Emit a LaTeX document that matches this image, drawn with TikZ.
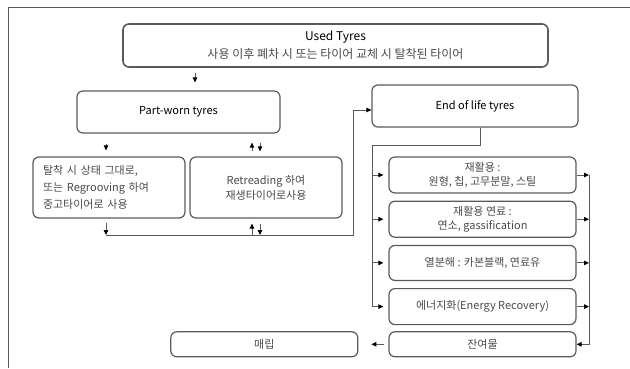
\documentclass[tikz,border=0pt]{standalone}
\usepackage{fontspec}
\setmainfont{Noto Sans CJK KR}
\usetikzlibrary{calc, positioning, arrows.meta}
\definecolor{linegray}{HTML}{5A5A5A}
\definecolor{textgray}{HTML}{4A4A4A}
\tikzset{
  box/.style={draw=linegray, line width=1.2pt, rounded corners=6pt, align=center,
    inner sep=2pt, text=textgray, font=\fontsize{11}{14}\selectfont},
  conn/.style={draw=linegray, line width=0.9pt},
  >={Triangle[length=5pt, width=4.5pt, color=black]},
}

\begin{document}
\begin{tikzpicture}[x=1pt, y=-1pt, node distance=7pt and 30pt]
    \useasboundingbox (0,0) rectangle (630,368);

    % Frame
    \draw [linegray, line width=1pt] (630,7) -- (8,7) -- (8,368);

    % Nodes
    \node (used)    [box, line width=1.6pt, minimum width=425pt, minimum height=43pt, text=black, font=\fontsize{12}{18}\selectfont] at (335.5,45.5) {Used Tyres\\{\color{textgray}사용 이후 폐차 시 또는 타이어 교체 시 탈착된 타이어}};
    \node (worn)    [box, minimum width=203pt, minimum height=42pt, text=black] at (178.5,112) {Part-worn tyres};
    \node (eol)     [box, minimum width=206pt, minimum height=42pt, text=black] at (475,106) {End of life tyres};
    \node (reuse)   [box, align=left, text width=132pt, inner xsep=10pt, minimum height=61pt, font=\fontsize{11}{17}\selectfont] at (109,187.5) {탈착 시 상태 그대로,\\또는 Regrooving 하여\\중고타이어로 사용};
    \node (retread) [box, minimum width=152pt, minimum height=61pt, font=\fontsize{11}{15}\selectfont] at (266,187.5) {Retreading 하여\\재생타이어로사용};
    \node (recyc)   [box, minimum width=187pt, minimum height=36pt] at (482.5,175) {재활용 :\\원형, 칩, 고무분말, 스틸};
    \node (fuel)    [box, below=of recyc, minimum width=187pt, minimum height=36pt] {재활용 연료 :\\연소, gassification};
    \node (pyro)    [box, below=of fuel, minimum width=187pt, minimum height=35pt] {열분해 : 카본블랙, 연료유};
    \node (energy)  [box, below=of pyro, minimum width=187pt, minimum height=36pt] {에너지화(Energy Recovery)};
    \node (resid)   [box, below=6pt of energy, minimum width=187pt, minimum height=25pt] {잔여물};
    \node (fill)    [box, left=of resid, minimum width=187pt, minimum height=25pt] {매립};

    % Helper points
    \coordinate (ua) at (195,0);
    \coordinate (la) at (106,0);
    \coordinate (up) at (252,0);
    \coordinate (dn) at (260,0);
    \coordinate (bl) at (106,235);
    \coordinate (br) at (353,235);
    \coordinate (ls) at (372,145);
    \coordinate (rs) at (589,0);

    % Connectors
    \begin{scope}[conn]

        \draw [->, shorten <=5pt, shorten >=8pt] (used.south -| ua) -- (worn.north -| ua);
        \draw [->, shorten <=10pt, shorten >=6pt] (worn.south -| la) -- (reuse.north -| la);
        \draw [->, shorten <=5pt, shorten >=9pt] (retread.north -| up) -- (worn.south -| up);
        \draw [->, shorten <=9pt, shorten >=5pt] (worn.south -| dn) -- (retread.north -| dn);

        \draw [->, shorten <=4pt] (reuse.south -| bl) -- (bl);
        \draw [->, shorten >=5pt] (bl -| up) -- (retread.south -| up);
        \draw [->, shorten <=5pt] (retread.south -| dn) -- (bl -| dn);
        \draw [->] (bl) -- (br) |- ([yshift=-4pt]eol.west);

        \draw ([xshift=5pt]eol.south) |- (ls) -- (ls |- energy.west);
        \foreach \n in {recyc, fuel, pyro, energy}
            \draw [->, shorten >=5pt] (ls |- \n.west) -- (\n.west);

        \foreach \n in {recyc, fuel, pyro, energy}
            \draw [->] (\n.east) -- (\n.east -| rs);
        \draw [->] (recyc.east -| rs) -- (resid.east -| rs) -- (resid.east);

        \draw [->, shorten <=4pt, shorten >=13pt] (resid.west) -- (fill.east);

    \end{scope}

\end{tikzpicture}
\end{document}
